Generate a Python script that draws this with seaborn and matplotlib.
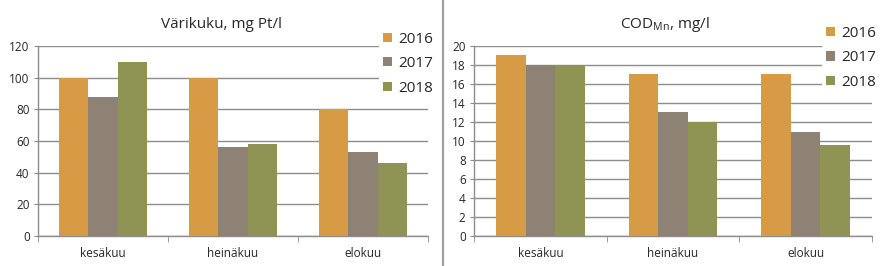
import matplotlib
matplotlib.use("Agg")
import matplotlib.pyplot as plt
import seaborn as sns
import pandas as pd
from matplotlib.lines import Line2D
from matplotlib.ticker import FixedLocator

sns.set_style("white")
plt.rcParams['font.family'] = ['Open Sans', 'DejaVu Sans']

months = ["kesäkuu", "heinäkuu", "elokuu"]
years = ["2016", "2017", "2018"]
vari_2016 = [100, 100, 80]
vari_2017 = [88, 56, 53]
vari_2018 = [110, 58, 46]
cod_2016 = [19, 17, 17]
cod_2017 = [18, 13, 11]
cod_2018 = [18, 12, 9.6]
colors = ["#D79A45", "#8E8275", "#8F9455"]

def make_df(a, b, c):
    rows = []
    for y, vals in zip(years, [a, b, c]):
        for m, v in zip(months, vals):
            rows.append({"month": m, "year": y, "value": v})
    return pd.DataFrame(rows)

fig = plt.figure(figsize=(8.86, 2.66), dpi=100)
W, H = 886, 266
ax1 = fig.add_axes([38 / W, 30 / H, 390 / W, 190 / H])
ax2 = fig.add_axes([474 / W, 30 / H, 398 / W, 190 / H])

grid_c = "#8C8C8C"

def style(ax, df, ymax, step, title, tx, ly):
    sns.barplot(data=df, x="month", y="value", hue="year", palette=colors,
                width=0.67, ax=ax, saturation=1, errorbar=None, zorder=3,
                linewidth=0)
    ax.set_xlim(-0.5, 2.5)
    ax.set_ylim(0, ymax)
    ax.set_yticks(range(0, ymax + 1, step))
    ax.yaxis.grid(True, color=grid_c, linewidth=1.0, zorder=0)
    ax.set_axisbelow(True)
    ax.set_xlabel("")
    ax.set_ylabel("")
    for s in ["top", "right"]:
        ax.spines[s].set_visible(False)
    for s in ["left", "bottom"]:
        ax.spines[s].set_color(grid_c)
        ax.spines[s].set_linewidth(1.0)
    ax.tick_params(axis="y", which="major", length=3, color=grid_c, labelsize=8.5,
                   pad=3, left=True, direction="out")
    ax.tick_params(axis="x", which="major", length=0, labelsize=8.5, pad=8)
    ax.xaxis.set_minor_locator(FixedLocator([-0.5, 0.5, 1.5, 2.5]))
    ax.tick_params(axis="x", which="minor", length=4, color=grid_c, bottom=True,
                   direction="out")
    ax.set_title(title, fontsize=11, x=tx, y=1.05)
    leg = ax.legend(loc="upper left", bbox_to_anchor=(0.874, ly), frameon=True,
                    fontsize=11, handlelength=0.55, handleheight=0.55,
                    handletextpad=0.45, labelspacing=0.62, borderpad=0.3,
                    borderaxespad=0, facecolor="white", edgecolor="white",
                    framealpha=1)
    leg.get_frame().set_linewidth(0)
    leg.set_zorder(5)

style(ax1, make_df(vari_2016, vari_2017, vari_2018), 120, 20,
      "Värikuku, mg Pt/l", 0.47, 1.1)
style(ax2, make_df(cod_2016, cod_2017, cod_2018), 20, 2,
      r"COD$_{\mathregular{Mn}}$, mg/l", 0.48, 1.13)

fig.add_artist(Line2D([442.5 / W, 442.5 / W], [0, 1], transform=fig.transFigure,
                      color="#A0A0A0", linewidth=1.6))

fig.savefig("out.png", dpi=100, facecolor="white")
